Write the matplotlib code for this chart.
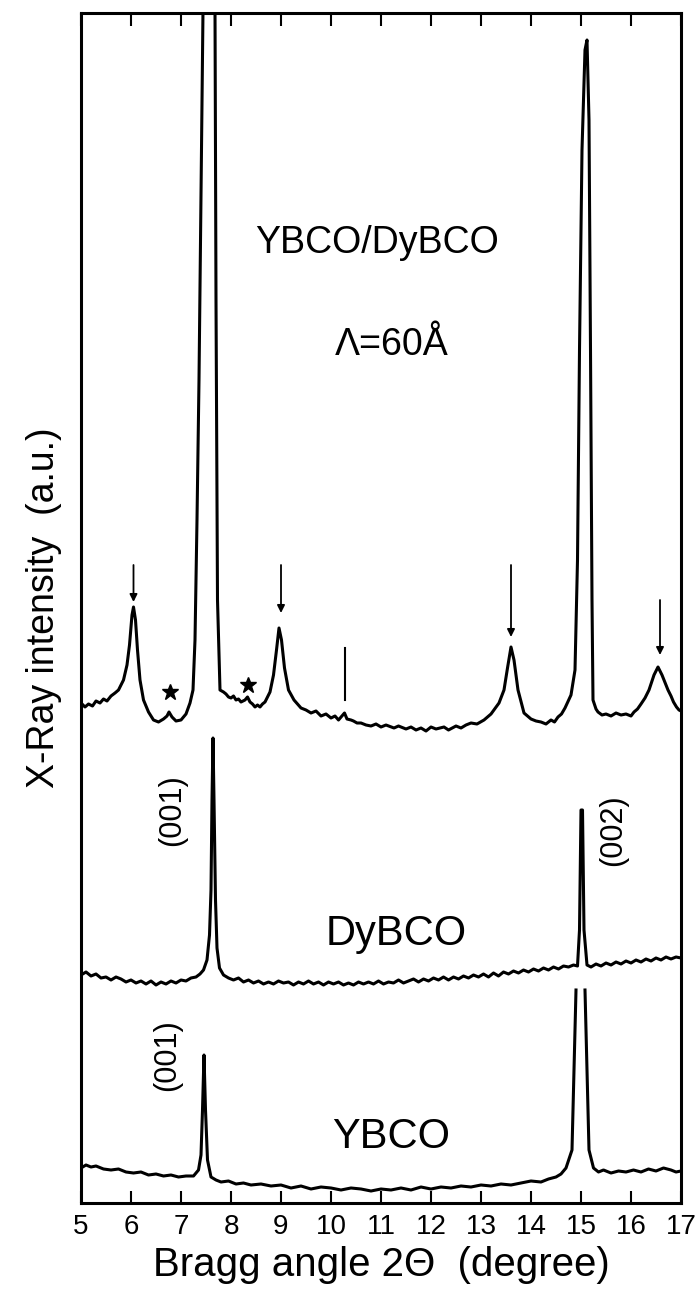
import numpy as np
import matplotlib
matplotlib.use("Agg")
import matplotlib.pyplot as plt

plt.rcParams['font.family'] = ['Liberation Sans', 'DejaVu Sans']

# ---------------- data (intensity in arbitrary units) ----------------
nan = np.nan

# YBCO/DyBCO superlattice, Lambda = 60 A
ml_x = [5.00, 5.08, 5.15, 5.23, 5.30, 5.38, 5.45, 5.52, 5.60, 5.68, 5.75, 5.85, 5.92, 5.97,
        6.02, 6.05, 6.09, 6.13, 6.18, 6.25, 6.35, 6.45, 6.55, 6.65, 6.72, 6.76, 6.82, 6.90,
        7.00, 7.10, 7.18, 7.24, 7.28, 7.32, 7.36, 7.40, 7.44, 7.48, 7.56, 7.64, 7.68, 7.70,
        7.73, 7.78, 7.85, 7.90, 7.95, 8.00, 8.05, 8.10, 8.15, 8.20, 8.28, 8.33, 8.38, 8.43,
        8.48, 8.53, 8.58, 8.63, 8.68, 8.78, 8.85, 8.91, 8.96, 9.01, 9.07, 9.15, 9.26, 9.33,
        9.40, 9.50, 9.60, 9.70, 9.80, 9.90, 10.00, 10.08, 10.15, 10.22, 10.27, 10.32, 10.40,
        10.45, 10.52, 10.60, 10.70, 10.80, 10.90, 11.00, 11.10, 11.26, 11.35, 11.50, 11.60,
        11.70, 11.80, 11.90, 12.00, 12.10, 12.26, 12.35, 12.50, 12.60, 12.70, 12.80, 12.92,
        13.06, 13.20, 13.36, 13.46, 13.53, 13.60, 13.66, 13.74, 13.86, 13.93, 14.00, 14.10,
        14.20, 14.30, 14.40, 14.47, 14.54, 14.61, 14.68, 14.80, 14.88, 14.93, 14.97, 15.02,
        15.08, 15.12, 15.16, 15.19, 15.22, 15.24, 15.30, 15.34, 15.42, 15.50, 15.60, 15.70,
        15.80, 15.90, 16.00, 16.06, 16.13, 16.20, 16.28, 16.36, 16.46, 16.54, 16.62, 16.74,
        16.80, 16.85, 16.91, 16.96, 17.00]
ml_y = [507, 503, 506, 504, 509, 507, 511, 509, 514, 517, 520, 530, 545, 565,
        595, 603, 590, 560, 530, 510, 498, 490, 488, 491, 494, 498, 493, 489,
        490, 496, 507, 520, 570, 690, 830, 1010, 1200, 1500, 1700, 1500, 1200, 910,
        610, 520, 518, 516, 513, 512, 514, 510, 511, 508, 510, 513, 508, 506,
        503, 505, 503, 506, 508, 518, 535, 560, 582, 570, 542, 520, 510, 506,
        502, 500, 497, 499, 494, 496, 492, 494, 490, 494, 497, 491, 490,
        489, 487, 487, 485, 484, 486, 483, 485, 482, 484, 481, 483,
        480, 482, 479, 483, 481, 483, 480, 484, 482, 485, 487, 486,
        490, 496, 507, 520, 542, 563, 550, 520, 497, 494, 491, 489,
        488, 486, 490, 488, 493, 496, 502, 515, 540, 650, 860, 1060,
        1160, 1170, 1090, 860, 610, 510, 501, 498, 495, 496, 494, 497,
        495, 496, 494, 498, 501, 506, 512, 520, 535, 543, 535, 520,
        514, 508, 503, 500, 499]

# DyBCO film
dy_x = [5.00, 5.10, 5.20, 5.30, 5.40, 5.50, 5.60, 5.70, 5.80, 5.90, 6.00, 6.10, 6.20, 6.30,
        6.40, 6.50, 6.60, 6.70, 6.80, 6.90, 7.00, 7.10, 7.20, 7.30, 7.38, 7.45, 7.52, 7.57,
        7.60, 7.62, 7.64, 7.66, 7.69, 7.72, 7.77, 7.85, 7.95, 8.05, 8.15, 8.25, 8.35, 8.45,
        8.55, 8.65, 8.75, 8.85, 8.95, 9.05, 9.15, 9.25, 9.35, 9.45, 9.55, 9.65, 9.75, 9.85,
        9.95, 10.05, 10.15, 10.25, 10.35, 10.45, 10.55, 10.65, 10.75, 10.85, 10.95, 11.05,
        11.15, 11.25, 11.35, 11.45, 11.55, 11.65, 11.75, 11.85, 11.95, 12.05, 12.15, 12.25,
        12.35, 12.45, 12.55, 12.65, 12.75, 12.85, 12.95, 13.05, 13.15, 13.25, 13.35, 13.45,
        13.55, 13.65, 13.75, 13.85, 13.95, 14.05, 14.15, 14.25, 14.35, 14.45, 14.55, 14.65,
        14.75, 14.85, 14.93, 14.97, 15.00, 15.03, 15.06, 15.12, 15.20, 15.30, 15.40, 15.50,
        15.60, 15.70, 15.80, 15.90, 16.00, 16.10, 16.20, 16.30, 16.40, 16.50, 16.60, 16.70,
        16.80, 16.90, 17.00]
dy_y = [235, 238, 234, 236, 232, 233, 230, 233, 231, 228, 230, 227, 229, 226,
        229, 225, 228, 226, 229, 227, 230, 229, 232, 233, 236, 240, 250, 275,
        320, 410, 472, 410, 310, 262, 242, 235, 232, 230, 232, 228, 230, 227,
        229, 226, 228, 226, 229, 227, 228, 225, 228, 226, 229, 226, 228, 225,
        228, 226, 228, 225, 227, 225, 228, 226, 228, 226, 229, 226,
        228, 227, 230, 227, 229, 231, 228, 231, 229, 232, 230, 233,
        230, 233, 231, 234, 232, 235, 233, 236, 233, 237, 234, 238,
        236, 239, 237, 240, 238, 241, 239, 242, 240, 243, 241, 244,
        243, 245, 244, 280, 400, 400, 280, 245, 243, 246, 244, 247,
        245, 248, 246, 249, 247, 250, 248, 251, 249, 252, 250, 253,
        251, 253, 252]

# YBCO film (the (002) peak is cut off under the DyBCO trace)
yb_x = [5.00, 5.10, 5.20, 5.30, 5.45, 5.60, 5.75, 5.90, 6.05, 6.20, 6.35, 6.50, 6.65, 6.80,
        6.95, 7.10, 7.25, 7.35, 7.40, 7.43, 7.46, 7.49, 7.53, 7.60, 7.70, 7.80, 7.95, 8.10,
        8.25, 8.40, 8.60, 8.80, 9.00, 9.20, 9.40, 9.60, 9.80, 10.00, 10.20, 10.40, 10.60,
        10.80, 11.00, 11.20, 11.40, 11.60, 11.80, 12.00, 12.20, 12.40, 12.60, 12.80, 13.00,
        13.20, 13.40, 13.60, 13.80, 14.00, 14.20, 14.35, 14.50, 14.60, 14.70, 14.82, 14.90,
        14.99, 15.08, 15.16, 15.25, 15.35, 15.45, 15.60, 15.75, 15.90, 16.05, 16.20, 16.35,
        16.50, 16.65, 16.80, 16.90, 17.00]
yb_y = [42, 45, 43, 44, 41, 40, 41, 38, 37, 38, 35, 36, 34, 35,
        33, 34, 34, 40, 55, 100, 155, 100, 50, 33, 30, 28, 29, 26,
        27, 25, 26, 24, 25, 22, 24, 21, 23, 22, 20, 22, 21,
        19, 21, 20, 22, 20, 23, 21, 23, 22, 24, 23, 25,
        24, 26, 25, 27, 29, 28, 31, 33, 36, 42, 60, 220,
        nan, 220, 60, 42, 38, 40, 37, 39, 38, 40, 38, 41,
        39, 42, 40, 38, 39]

# satellite markers on the superlattice trace
arrow_x = [6.05, 9.00, 13.60, 16.58]
arrow_tail = [645, 645, 645, 610]
arrow_tip = [608, 597, 573, 555]
mark_x, mark_y0, mark_y1 = 10.27, 510, 562
star_x = [6.78, 8.33]
star_y = [518, 525]

xticks = list(range(5, 18))

# ---------------- figure ----------------
fig = plt.figure(figsize=(6.95, 12.94), dpi=100)
ax = fig.add_axes([81 / 695, 1 - 1203 / 1294, 600 / 695, (1203 - 13) / 1294])

lw = 2.2
ax.plot(ml_x, ml_y, color='black', lw=lw)
ax.plot(dy_x, dy_y, color='black', lw=lw)
ax.plot(yb_x, yb_y, color='black', lw=lw)

for x, t0, t1 in zip(arrow_x, arrow_tail, arrow_tip):
    ax.annotate('', xy=(x, t1), xytext=(x, t0),
                arrowprops=dict(arrowstyle='-|>', color='black', lw=1.3,
                                mutation_scale=11, shrinkA=0, shrinkB=0))
ax.plot([mark_x, mark_x], [mark_y0, mark_y1], color='black', lw=1.5)
ax.plot(star_x, star_y, ls='none', marker='*', color='black', markersize=12)

ax.text(10.92, 957, 'YBCO/DyBCO', ha='center', va='baseline', fontsize=27)
ax.text(11.22, 855, 'Λ=60Å', ha='center', va='baseline', fontsize=27)
ax.text(11.30, 265, 'DyBCO', ha='center', va='baseline', fontsize=30)
ax.text(11.20, 62, 'YBCO', ha='center', va='baseline', fontsize=30)
ax.text(6.82, 400, '(001)', rotation=90, ha='center', va='center', fontsize=22)
ax.text(6.72, 155, '(001)', rotation=90, ha='center', va='center', fontsize=22)
ax.text(15.64, 380, '(002)', rotation=90, ha='center', va='center', fontsize=22)

ax.set_xlim(5, 17)
ax.set_ylim(7, 1197)
ax.set_xticks(xticks)
ax.set_xticklabels([str(t) for t in xticks], fontsize=20)
ax.set_yticks([])
ax.tick_params(axis='x', direction='in', top=True, length=9, width=1.5, pad=8)
for s in ax.spines.values():
    s.set_linewidth(2.2)

ax.set_xlabel('Bragg angle 2Θ  (degree)', fontsize=29, labelpad=4)
ax.set_ylabel('X-Ray intensity  (a.u.)', fontsize=27, labelpad=14)

fig.savefig('out.png', dpi=100)
